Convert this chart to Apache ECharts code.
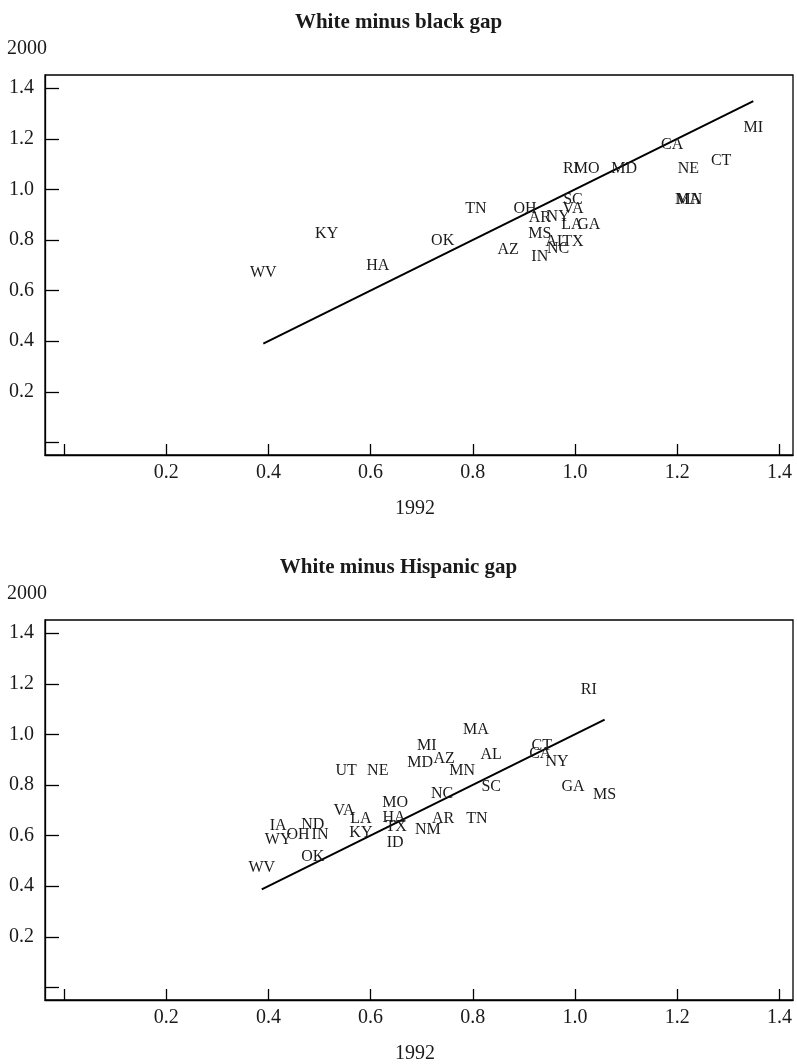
<!DOCTYPE html>
<html>
<head>
<meta charset="utf-8">
<script src="https://cdn.jsdelivr.net/npm/echarts@6/dist/echarts.min.js"></script>
<style>
  html, body { margin: 0; padding: 0; background: #fff; }
  #chart { width: 797px; height: 1064px; }
</style>
</head>
<body>
<div id="chart"></div>
<script>
// Axis ticks (0 is marked but not labelled)
const tickMarks = [0, 0.2, 0.4, 0.6, 0.8, 1.0, 1.2, 1.4];
const tickLabels = [0.2, 0.4, 0.6, 0.8, 1.0, 1.2, 1.4];

// Panel titles and axis titles
const panelTitles = ['White minus black gap', 'White minus Hispanic gap'];
const xTitle = '1992';
const yTitle = '2000';

// White minus black gap, by state
const blackStates = ['WV','KY','HA','OK','TN','AZ','OH','AR','NY','MS','IN','AL','NC','TX','LA','GA','SC','VA','RI','MO','MD','CA','NE','CT','MI','MA','MN'];
const black1992 = [0.390,0.514,0.614,0.741,0.806,0.869,0.902,0.931,0.967,0.931,0.931,0.963,0.967,0.996,0.994,1.027,0.996,0.996,0.992,1.023,1.096,1.190,1.222,1.286,1.349,1.221,1.224];
const black2000 = [0.670,0.823,0.697,0.795,0.923,0.760,0.923,0.887,0.891,0.824,0.733,0.793,0.765,0.793,0.858,0.858,0.958,0.923,1.080,1.080,1.080,1.175,1.080,1.112,1.242,0.957,0.957];

// White minus Hispanic gap, by state
const hispStates = ['WV','OK','WY','IA','ND','OH','IN','VA','LA','KY','UT','NE','MO','HA','TX','ID','NM','AR','TN','NC','MI','MD','AZ','MN','MA','AL','SC','CT','CA','NY','GA','MS','RI'];
const hisp1992 = [0.387,0.487,0.419,0.419,0.487,0.458,0.501,0.548,0.581,0.581,0.552,0.614,0.648,0.646,0.650,0.648,0.712,0.742,0.808,0.740,0.710,0.697,0.744,0.779,0.806,0.836,0.836,0.935,0.932,0.965,0.996,1.058,1.027];
const hisp2000 = [0.472,0.516,0.583,0.639,0.643,0.603,0.603,0.698,0.666,0.611,0.856,0.856,0.729,0.670,0.634,0.571,0.622,0.666,0.666,0.765,0.955,0.888,0.903,0.856,1.018,0.919,0.792,0.955,0.923,0.891,0.792,0.760,1.176];

const FONT = '"Liberation Serif", "DejaVu Serif", serif';
const INK = '#1a1a1a';

const gridTops = [75, 620];
const gridLeft = 45, gridWidth = 748, gridHeight = 380;

function pointsOf(states, xs, ys) {
  return states.map((s, i) => ({ name: s, value: [xs[i], ys[i]] }));
}

// 45-degree reference line across the range of 1992 values
function diagonal(xs) {
  const lo = Math.min(...xs), hi = Math.max(...xs);
  return [[lo, lo], [hi, hi]];
}

function xAxisFor(idx) {
  return {
    type: 'value', gridIndex: idx, min: -0.0372, max: 1.4266,
    axisLine: { show: true, onZero: false, lineStyle: { color: '#000', width: 1.3 } },
    axisTick: { show: true, inside: true, length: 11, customValues: tickMarks, lineStyle: { color: '#000', width: 1.3 } },
    axisLabel: { show: true, customValues: tickLabels, margin: 8, color: INK, fontFamily: FONT, fontSize: 20, formatter: v => v.toFixed(1) },
    splitLine: { show: false }
  };
}
function yAxisFor(idx) {
  return {
    type: 'value', gridIndex: idx, min: -0.050, max: 1.452,
    axisLine: { show: true, onZero: false, lineStyle: { color: '#000', width: 1.3 } },
    axisTick: { show: true, inside: true, length: 14, customValues: tickMarks, lineStyle: { color: '#000', width: 1.3 } },
    axisLabel: { show: true, customValues: tickLabels, margin: 11, color: INK, fontFamily: FONT, fontSize: 20, formatter: v => v.toFixed(1) },
    splitLine: { show: false }
  };
}

function labelSeries(idx, data) {
  return {
    type: 'scatter', xAxisIndex: idx, yAxisIndex: idx, data: data,
    symbol: 'circle', symbolSize: 1, itemStyle: { color: 'rgba(0,0,0,0)', opacity: 1 },
    label: { show: true, position: 'inside', opacity: 1, formatter: p => p.name, color: INK, fontFamily: FONT, fontSize: 16, textBorderWidth: 0 },
    emphasis: { disabled: true }, silent: true, z: 3
  };
}
function lineSeries(idx, xs) {
  return {
    type: 'line', xAxisIndex: idx, yAxisIndex: idx, data: diagonal(xs),
    symbol: 'none', lineStyle: { color: '#000', width: 2 }, silent: true, z: 2
  };
}

const chart = echarts.init(document.getElementById('chart'), null, { renderer: 'canvas' });
chart.setOption({
  backgroundColor: '#fff',
  animation: false,
  title: [
    { text: panelTitles[0], left: 'center', top: 7, textStyle: { fontFamily: FONT, fontSize: 21, fontWeight: 'bold', color: INK } },
    { text: panelTitles[1], left: 'center', top: 552, textStyle: { fontFamily: FONT, fontSize: 21, fontWeight: 'bold', color: INK } }
  ],
  grid: gridTops.map(t => ({
    left: gridLeft, top: t, width: gridWidth, height: gridHeight,
    show: true, borderColor: '#000', borderWidth: 1.3, backgroundColor: 'transparent'
  })),
  xAxis: [xAxisFor(0), xAxisFor(1)],
  yAxis: [yAxisFor(0), yAxisFor(1)],
  graphic: [
    { type: 'text', left: 7, top: 39, style: { text: yTitle, font: '20px ' + FONT, fill: INK } },
    { type: 'text', left: 395, top: 499, style: { text: xTitle, font: '20px ' + FONT, fill: INK } },
    { type: 'text', left: 7, top: 584, style: { text: yTitle, font: '20px ' + FONT, fill: INK } },
    { type: 'text', left: 395, top: 1044, style: { text: xTitle, font: '20px ' + FONT, fill: INK } }
  ],
  series: [
    lineSeries(0, black1992),
    labelSeries(0, pointsOf(blackStates, black1992, black2000)),
    lineSeries(1, hisp1992),
    labelSeries(1, pointsOf(hispStates, hisp1992, hisp2000))
  ]
});
</script>
</body>
</html>
